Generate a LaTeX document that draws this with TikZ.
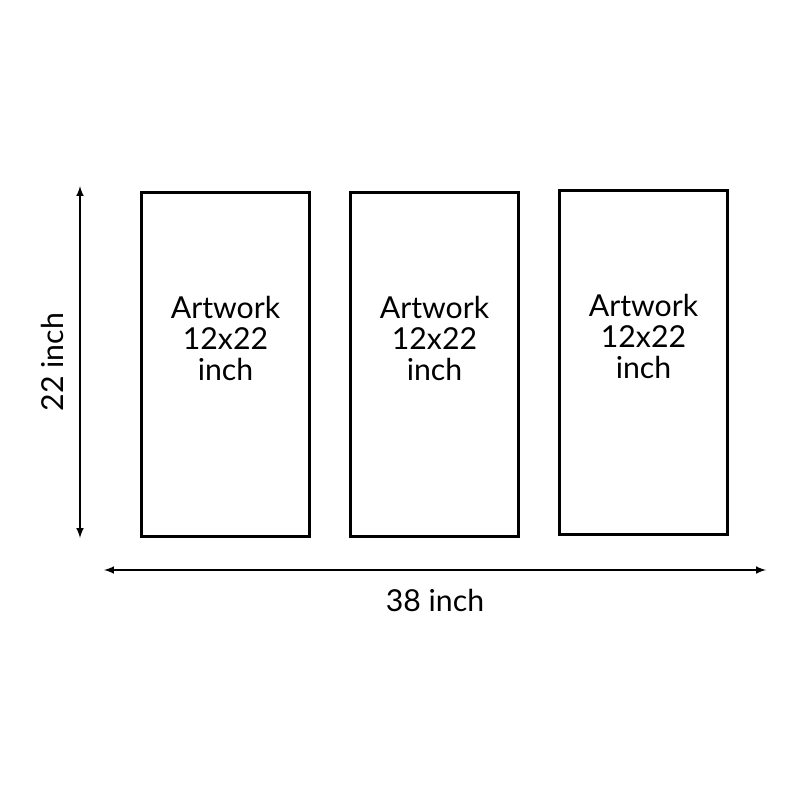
\documentclass[tikz,border=0pt]{standalone}
\usepackage{fontspec}
\setmainfont{Lato}
\usetikzlibrary{positioning,calc,arrows}

\begin{document}
\begin{tikzpicture}[
x=0.025cm, y=-0.025cm,
panel/.style={
  draw,
  rectangle,
  line width=2.2pt,
  minimum width=4.2cm,
  minimum height=8.62cm
  },
caption/.style={
  align=center,
  font=\fontsize{21.5}{22.3}\selectfont
  },
dim/.style={
  line width=1.4pt,
  <->
  },
>=latex
]
\useasboundingbox (0,0) rectangle (800,800);
\node[panel] (art1) at (225.5,364.5) {};
\node[panel] (art2) at (434.5,364.5) {};
\node[panel] (art3) at (643.5,362.5) {};
\node[caption] (txt1) at ($(art1.center)+(0,-26)$) {Artwork\\12x22\\inch};
\node[caption] (txt2) at ($(art2.center)+(0,-26)$) {Artwork\\12x22\\inch};
\node[caption] (txt3) at ($(art3.center)+(0,-26)$) {Artwork\\12x22\\inch};
\coordinate (vtop) at (80,186);
\coordinate (vbot) at (80,538);
\coordinate (hleft) at (104,570);
\coordinate (hright) at (766,570);
 \draw[dim] (vtop) -- (vbot);
  \draw[dim] (hleft) -- (hright);
\node[caption, rotate=90] (hgt) at (52,362) {22 inch};
\node[caption] (wid) at (435,600) {38 inch};
\end{tikzpicture}
\end{document}
